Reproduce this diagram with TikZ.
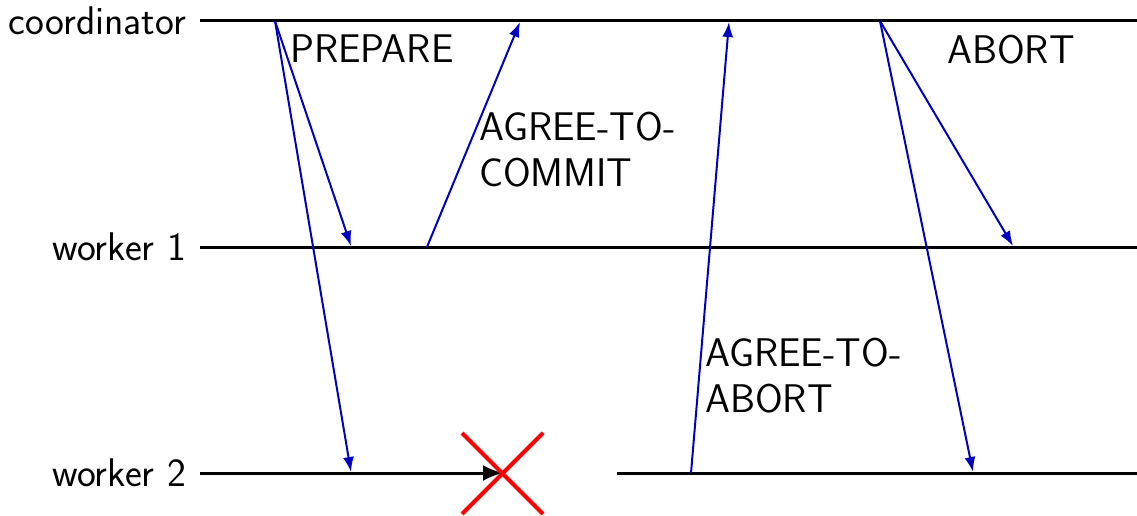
\documentclass[tikz,border=0pt]{standalone}
\usetikzlibrary{arrows.meta}
\begin{document}
\begin{tikzpicture}[x=1pt,y=-1pt,
  timeline/.style={line width=3pt},
  msg/.style={blue!75!black,line width=2pt,-{Latex[length=15pt,width=11pt]}},
  lbl/.style={font=\fontsize{40}{46}\selectfont\sffamily,inner sep=0pt,align=left},
  cross/.style={red,line width=4pt}]
\useasboundingbox (0,0) rectangle (1137,516);
% timelines
\coordinate (c0) at (200,21);  \coordinate (c1) at (1137,21);
\coordinate (w10) at (200,247); \coordinate (w11) at (1137,247);
\coordinate (w20) at (200,473); \coordinate (w2x) at (503,473);
\coordinate (w2b) at (617,473); \coordinate (w21) at (1137,473);
\draw[timeline] (c0) -- (c1);
\draw[timeline] (w10) -- (w11);
\draw[timeline,-{Latex[length=20pt,width=16pt]}] (w20) -- (w2x);
\draw[timeline] (w2b) -- (w21);
% labels
\node[lbl,anchor=east] (lc) at (186,21) {coordinator};
\node[lbl,anchor=east] (lw1) at (186,247) {worker 1};
\node[lbl,anchor=east] (lw2) at (186,473) {worker 2};
% crash
\coordinate (x1) at (462,433); \coordinate (x2) at (543,514);
\coordinate (x3) at (543,433); \coordinate (x4) at (462,514);
\draw[cross] (x1) -- (x2);
\draw[cross] (x3) -- (x4);
% message points
\coordinate (p0) at (275,21);
\coordinate (p1) at (351,246);
\coordinate (p2) at (351,472);
\coordinate (a0) at (427,247);
\coordinate (a1) at (520,22);
\coordinate (b0) at (691,473);
\coordinate (b1) at (729,22);
\coordinate (q0) at (880,21);
\coordinate (q1) at (1013,246);
\coordinate (q2) at (973,472);
\draw[msg] (p0) -- (p1);
\draw[msg] (p0) -- (p2);
\draw[msg] (a0) -- (a1);
\draw[msg] (b0) -- (b1);
\draw[msg] (q0) -- (q1);
\draw[msg] (q0) -- (q2);
% message labels
\node[lbl,anchor=north west] (tp) at (290,35) {PREPARE};
\node[lbl,anchor=north west] (ta) at (479,112) {AGREE-TO-\\COMMIT};
\node[lbl,anchor=north west] (tb) at (705,338) {AGREE-TO-\\ABORT};
\node[lbl,anchor=north west] (tq) at (947,35) {ABORT};
\end{tikzpicture}
\end{document}
